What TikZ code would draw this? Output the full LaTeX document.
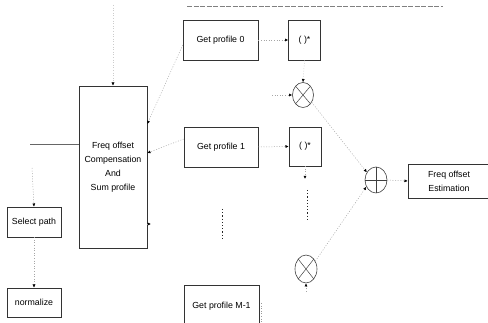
\documentclass[tikz,border=0pt]{standalone}
\usepackage{fontspec}
\setmainfont{Liberation Sans}
\usetikzlibrary{arrows.meta,shapes.geometric}
\begin{document}
\begin{tikzpicture}[x=1pt,y=-1pt,
  box/.style={draw=black!80, line width=0.6pt, rectangle, inner sep=0pt, font=\fontsize{8.8}{14}\selectfont, align=center},
  opnode/.style={draw=black!75, line width=0.6pt, ellipse, inner sep=0pt},
  mulop/.style={opnode, path picture={\draw[black!75,line width=0.5pt] (path picture bounding box.south west) -- (path picture bounding box.north east) (path picture bounding box.north west) -- (path picture bounding box.south east);}},
  addop/.style={opnode, path picture={\draw[black!75,line width=0.5pt] (path picture bounding box.south) -- (path picture bounding box.north) (path picture bounding box.west) -- (path picture bounding box.east);}},
  conn/.style={draw=black!35, dash pattern=on 1pt off 1.6pt, line width=0.5pt, -{Latex[length=3.2pt,width=3pt,color=black]}},
  faintconn/.style={conn, draw=black!20},
  plainln/.style={draw=black!40, dash pattern=on 1pt off 1.6pt, line width=0.5pt},
  topln/.style={draw=black!50, dash pattern=on 5pt off 1.5pt, line width=0.5pt},
  dotsln/.style={draw=black!85, dash pattern=on 1.2pt off 2pt, line width=0.8pt}]
\useasboundingbox (0,0) rectangle (488,323);

% boxes
\node[box, minimum width=68pt, minimum height=162pt] (comp) at (113,167) {Freq offset\\Compensation\\And\\Sum profile};
\node[box, minimum width=75pt, minimum height=40pt] (gp0) at (220.5,40) {Get profile 0};
\node[box, minimum width=74pt, minimum height=40pt] (gp1) at (221,147) {Get profile 1};
\node[box, minimum width=75pt, minimum height=42pt] (gpM) at (221.5,306) {Get profile M-1};
\node[box, minimum width=32pt, minimum height=40pt] (cj0) at (304.5,40) {(\;)*};
\node[box, minimum width=32pt, minimum height=39pt] (cj1) at (305,146.5) {(\;)*};
\node[mulop, minimum width=21pt, minimum height=25pt] (mul0) at (303,95) {};
\node[addop, minimum width=22pt, minimum height=26pt] (add) at (376,180) {};
\node[mulop, minimum width=22pt, minimum height=28pt] (mul1) at (306,269) {};
\node[box, minimum width=82pt, minimum height=34pt] (est) at (449,181) {Freq offset\\Estimation};
\node[box, minimum width=54pt, minimum height=30pt] (sel) at (34,222) {Select path};
\node[box, minimum width=54pt, minimum height=29pt] (norm) at (34,302.5) {normalize};

% free ends
\coordinate (topL) at (187,6);
\coordinate (topR) at (443,6);
\coordinate (compin) at (113,5);
\coordinate (leftin) at (30,144);
\coordinate (selin) at (32,168);
\coordinate (mul0in) at (272,95);
\coordinate (compout) at (151,224);
\coordinate (cj1out) at (305,179);
\coordinate (dA) at (307,190);
\coordinate (dB) at (307,221);
\coordinate (vA) at (222,209);
\coordinate (vB) at (222,240);
\coordinate (mul1in) at (306,292);
\coordinate (gpMA) at (261,303);
\coordinate (gpMB) at (261,323);

% connectors
\draw[topln] (topL) -- (topR);
\draw[faintconn] (compin) -- (comp.north);
\draw[conn] ([yshift=-5pt]gp0.west) -- ([yshift=43pt]comp.east);
\draw[conn] ([yshift=8pt]gp1.west) -- ([yshift=14pt]comp.east);
\draw[conn] ([yshift=-57pt]comp.east) -- (compout);
\draw[draw=black!60, line width=0.5pt] (leftin) -- (comp.west |- leftin);
\draw[conn] (selin) -- (sel.north);
\draw[conn] (sel.south) -- (norm.north);
\draw[conn] (gp0.east) -- (cj0.west);
\draw[conn] (gp1.east) -- (cj1.west);
\draw[conn] (mul0in) -- (mul0.west);
\draw[faintconn] (cj0.south) -- (mul0.north);
\draw[conn] (mul0.-40) -- (add.140);
\draw[conn] (mul1.40) -- (add.215);
\draw[conn] (add.east) -- (est.west);
\draw[conn] (cj1.south) -- (cj1out);
\draw[dotsln] (dA) -- (dB);
\draw[dotsln] (vA) -- (vB);
\draw[conn] (mul1in) -- (mul1.south);
\draw[plainln] (gpMA) -- (gpMB);
\end{tikzpicture}
\end{document}
